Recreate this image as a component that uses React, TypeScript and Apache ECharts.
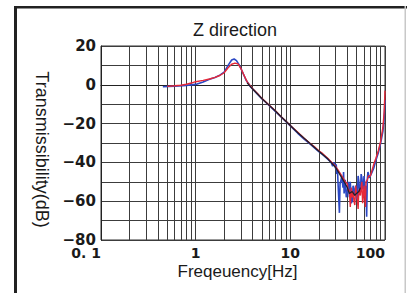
import React, { useEffect, useRef } from "react";
import * as echarts from "echarts";

const titleText = "Z direction";
const xAxisName = "Freqeuency[Hz]";
const yAxisName = "Transmissibility(dB)";
const xTickLabels = ["0. 1", "1", "10", "100"];

const minorGridHz = [
  0.2, 0.3, 0.4, 0.5, 0.6, 0.7, 0.8, 0.9,
  2, 3, 4, 5, 6, 7, 8, 9,
  20, 30, 40, 50, 60, 70, 80, 90,
];

const blueHz = [
  0.45, 0.6, 0.8, 1.0, 1.2, 1.4, 1.6, 1.8, 2.0, 2.2, 2.4, 2.55, 2.7, 2.9, 3.1,
  3.4, 3.8, 4.5, 5, 6, 7, 8, 9, 10, 12, 14, 16, 18, 20, 22, 25, 27, 28, 29, 30,
  30.5, 31, 31.5, 32, 33, 33.5, 34, 35, 36, 36.5, 37, 38, 39, 40, 41, 42, 43,
  44, 45, 46, 47, 48, 49, 50, 51, 52, 53, 54, 55, 56, 57, 58, 59, 60, 61, 62,
  63, 64, 65, 66, 67, 68, 70, 73, 76, 80, 85, 90, 95, 98, 100,
];
const blueDb = [
  -1.0, -0.7, -0.3, 0.2, 1.5, 2.8, 3.8, 5.0, 6.5, 10, 12.8, 13.3, 12.5, 10, 7,
  2.5, -1, -4.8, -7.2, -10.8, -13.8, -16.6, -19, -21.2, -25, -28, -30.3, -32.5,
  -34.5, -36, -38.5, -40, -42, -40, -43,
  -41, -46, -44, -52, -66, -51, -50, -47, -53, -45, -56, -49, -58, -55, -50, -58, -50,
  -61, -60, -52, -54, -57, -52, -59, -58, -47, -50, -56, -55, -46, -48, -53, -54, -47, -47, -55,
  -52, -68, -49, -45, -46, -48, -47, -45, -43, -39, -35, -30, -24, -17, -8,
];

const redHz = [
  0.5, 0.6, 0.7, 0.8, 0.9, 1.0, 1.2, 1.4, 1.6, 1.8, 2.0, 2.2, 2.4, 2.6, 2.8,
  3.0, 3.2, 3.5, 4.0, 4.5, 5, 6, 7, 8, 9, 10, 12, 14, 16, 18, 20, 22, 25, 28,
  30, 32, 34, 36, 38, 40, 41, 42, 43, 44, 45, 46, 47, 48, 49, 50, 51, 52, 53,
  54, 55, 56, 57, 58, 59, 60, 61, 62, 63, 65, 67, 70, 73, 76, 80, 85, 90, 95,
  98, 100,
];
const redDb = [
  -0.8, -0.5, -0.2, 0.3, 0.9, 1.6, 2.3, 3.0, 3.8, 4.8, 6.2, 8.8, 10.6, 11.2,
  10.8, 8.5, 5.5, 1.5, -2.0, -4.5, -7, -10.5, -13.5, -16.5, -18.8, -21, -24.5,
  -27.5, -30, -32, -34, -35.5, -38, -40.5, -42, -44, -46, -48, -50, -51, -55,
  -54, -63, -53, -58, -55, -60, -62, -52, -56, -59, -64, -54, -56, -57, -53,
  -50, -61, -58, -52, -56, -63, -50, -49, -47, -47, -44, -41, -38, -34, -29,
  -22, -14, -3,
];

const blackHz = [3.5, 4, 5, 6, 7, 8, 10, 12, 15, 20, 25, 30, 35, 38, 40, 42, 45, 48, 50, 53, 55];
const blackDb = [1, -2.2, -7.1, -10.6, -13.6, -16.5, -21, -24.7, -28.8, -34.2, -38.3, -42.5, -48, -51, -53, -56, -55, -57, -56, -55, -53];

const pairs = (xs: number[], ys: number[]) => xs.map((x, i) => [x, ys[i]]);

export default function App() {
  const ref = useRef<HTMLDivElement>(null);
  useEffect(() => {
    if (!ref.current) return;
    const chart = echarts.init(ref.current, undefined, { renderer: "svg" });
    const gridColor = "#3c3c3c";
    chart.setOption({
      animation: false,
      backgroundColor: "#ffffff",
      grid: {
        left: 101,
        top: 46,
        right: 22,
        bottom: 53,
        show: true,
        borderColor: "#333",
        borderWidth: 1,
      },
      xAxis: {
        type: "log",
        logBase: 10,
        min: 0.1,
        max: 100,
        axisLine: { show: true, lineStyle: { color: "#222", width: 1 } },
        axisTick: { show: false },
        splitLine: { show: true, lineStyle: { color: gridColor, width: 1 } },
        axisLabel: {
          margin: 6,
          fontFamily: "DejaVu Sans",
          fontWeight: "bold",
          fontSize: 14,
          color: "#1a1a1a",
          alignMinLabel: "right",
          alignMaxLabel: "right",
          formatter: (v: number) => {
            const idx = Math.round(Math.log10(v)) + 1;
            return xTickLabels[idx] ?? String(v);
          },
        },
      },
      yAxis: {
        type: "value",
        min: -80,
        max: 20,
        interval: 10,
        axisLine: { show: true, lineStyle: { color: "#222", width: 1 } },
        axisTick: { show: false },
        splitLine: { show: true, lineStyle: { color: gridColor, width: 1 } },
        axisLabel: {
          margin: 5,
          fontFamily: "DejaVu Sans",
          fontWeight: "bold",
          fontSize: 15,
          color: "#1a1a1a",
          formatter: (v: number) =>
            Math.round(v) % 20 === 0 ? String(Math.round(v)).replace("-", "\u2212") : "",
        },
      },
      graphic: [
        { type: "rect", shape: { x: 14, y: 6, width: 3, height: 287 }, style: { fill: "#222" }, silent: true },
        { type: "rect", shape: { x: 14, y: 6, width: 393, height: 2.5 }, style: { fill: "#222" }, silent: true },
        { type: "rect", shape: { x: 404.5, y: 6, width: 1.5, height: 287 }, style: { fill: "#c8c8c8" }, silent: true },
        {
          type: "text",
          x: 235,
          y: 30,
          style: {
            text: titleText,
            fontFamily: "Liberation Sans",
            fontSize: 18,
            fill: "#1a1a1a",
            align: "center",
            verticalAlign: "middle",
          },
        },
        {
          type: "text",
          x: 237.5,
          y: 271,
          style: {
            text: xAxisName,
            fontFamily: "Liberation Sans",
            fontSize: 17,
            fill: "#1a1a1a",
            align: "center",
            verticalAlign: "middle",
          },
        },
        {
          type: "text",
          x: 41.5,
          y: 149.5,
          rotation: -Math.PI / 2,
          style: {
            text: yAxisName,
            fontFamily: "Liberation Sans",
            fontSize: 18,
            fill: "#1a1a1a",
            align: "center",
            verticalAlign: "middle",
          },
        },
      ],
      series: [
        {
          type: "line",
          name: "grid",
          data: [],
          silent: true,
          z: 1,
          markLine: {
            z: 1,
            silent: true,
            symbol: ["none", "none"],
            label: { show: false },
            lineStyle: { color: gridColor, width: 1, type: "solid" },
            emphasis: { disabled: true },
            data: minorGridHz.map((f) => ({ xAxis: f })),
          },
        },
        {
          type: "line",
          name: "blue",
          data: pairs(blueHz, blueDb),
          showSymbol: false,
          symbol: "none",
          z: 3,
          lineStyle: { color: "#2b48c4", width: 1.6 },
        },
        {
          type: "line",
          name: "red",
          data: pairs(redHz, redDb),
          showSymbol: false,
          symbol: "none",
          z: 4,
          lineStyle: { color: "#e62838", width: 1.4 },
        },
        {
          type: "line",
          name: "black",
          data: pairs(blackHz, blackDb),
          showSymbol: false,
          symbol: "none",
          z: 5,
          lineStyle: { color: "#1e1e2a", width: 1.3 },
        },
      ],
    });
    return () => chart.dispose();
  }, []);
  return (
    <div
      ref={ref}
      style={{ position: "absolute", left: 0, top: 0, width: 407, height: 293 }}
    />
  );
}
